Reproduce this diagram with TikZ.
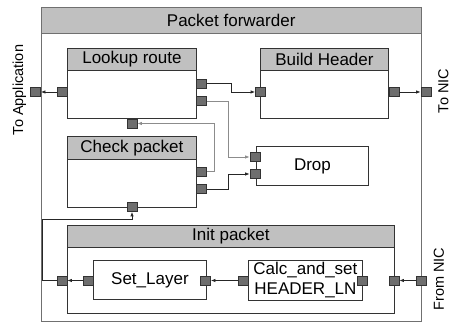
\documentclass[tikz,border=0pt]{standalone}
\usepackage{fontspec}
\setmainfont{Liberation Sans}
\usetikzlibrary{arrows.meta,calc}
\definecolor{hdr}{HTML}{C0C0C0}
\definecolor{portc}{HTML}{6E6E6E}
\definecolor{edge}{HTML}{333333}
\definecolor{outer}{HTML}{707070}
\tikzset{
 box/.style={draw=edge, line width=0.9pt, anchor=north west, inner sep=0pt},
 hdrbox/.style={box, fill=hdr, font=\fontsize{17}{20}\selectfont},
 port/.style={draw=edge, fill=portc, minimum width=10pt, minimum height=9pt, inner sep=0pt, line width=0.8pt},
 conn/.style={draw=black!85, line width=0.8pt, -{Latex[length=4.5pt,width=3.5pt]}},
 conng/.style={conn, draw=black!45},
 lbl/.style={font=\fontsize{17}{20}\selectfont, inner sep=0pt},
 side/.style={font=\fontsize{14.5}{17}\selectfont, rotate=90, inner sep=0pt}
}
\begin{document}
\begin{tikzpicture}[x=1pt,y=-1pt]
\useasboundingbox (0,0) rectangle (451,323);
% outer
\node[box, draw=outer, minimum width=379.5pt, minimum height=313.5pt] (outerbox) at (41,7.5) {};
\node[hdrbox, draw=outer, minimum width=379.5pt, minimum height=25.5pt] (outerH) at (41,7.5) {Packet forwarder};
% lookup
\node[box, minimum width=129pt, minimum height=70pt] (lookup) at (67,48) {};
\node[hdrbox, minimum width=129pt, minimum height=22pt] (lookupH) at (67,48) {Lookup route};
% build header
\node[box, minimum width=128pt, minimum height=70pt] (build) at (260,48) {};
\node[hdrbox, minimum width=128pt, minimum height=22pt] (buildH) at (260,48) {Build Header};
% check packet
\node[box, minimum width=129pt, minimum height=71pt] (check) at (67,136) {};
\node[hdrbox, minimum width=129pt, minimum height=23pt] (checkH) at (67,136) {Check packet};
% drop
\node[box, minimum width=112pt, minimum height=39pt, lbl] (drop) at (256,146) {Drop};
% init
\node[box, minimum width=327pt, minimum height=88pt] (init) at (67,225) {};
\node[hdrbox, minimum width=327pt, minimum height=22pt] (initH) at (67,225) {Init packet};
% inner
\node[box, minimum width=113pt, minimum height=39pt, lbl] (setl) at (93,260) {Set\_Layer};
\node[box, minimum width=114pt, minimum height=40pt, lbl, align=center] (calc) at (248,260) {Calc\_and\_set\\HEADER\_LN};
% ports
\node[port] (pA) at (35.5,92) {};
\node[port] (lkL) at (62,92) {};
\node[port] (lkR1) at (201.5,83.5) {};
\node[port] (lkR2) at (201.5,101) {};
\node[port] (lkB) at (132,123.5) {};
\node[port] (bhL) at (260.5,92) {};
\node[port] (bhR) at (394,92) {};
\node[port] (pNIC) at (426,92) {};
\node[port] (drL1) at (255,157) {};
\node[port] (drL2) at (255,174) {};
\node[port] (ckR1) at (201.5,171.5) {};
\node[port] (ckR2) at (201.5,189) {};
\node[port] (ckB) at (132,207) {};
\node[port] (inL) at (62,280.5) {};
\node[port] (slL) at (88,280.5) {};
\node[port] (slR) at (205.5,280.5) {};
\node[port] (caL) at (243,280.5) {};
\node[port] (caR) at (362.5,280.5) {};
\node[port] (inR) at (394,280.5) {};
\node[port] (pFN) at (421,280.5) {};
% side labels
\node[side] (tApp) at (19.5,90) {To Application};
\node[side] (tNIC) at (443.5,91) {To NIC};
\node[side] (fNIC) at (439,279) {From NIC};
% connectors
\draw[conn] (lkL.west) -- (pA.east);
\draw[conn] (lkR1.east) -- ++(24,0) |- (bhL.west);
\draw[conng] (lkR2.east) -- ++(21.5,0) |- (drL1.west);
\draw[conng] (ckR1.east) -- ++(7.5,0) |- (lkB.east);
\draw[conn] (ckR2.east) -- ++(21.5,0) |- (drL2.west);
\draw[conn] (bhR.east) -- (pNIC.west);
\draw[conn] (pFN.west) -- (inR.east);
\draw[conn] (caL.west) -- (slR.east);
\draw[conn] (slL.west) -- (inL.east);
\draw[conn] (inL.west) -- ++(-14.3,0) |- (ckB.south |- 0,219.5) -- (ckB.south);
\end{tikzpicture}
\end{document}
